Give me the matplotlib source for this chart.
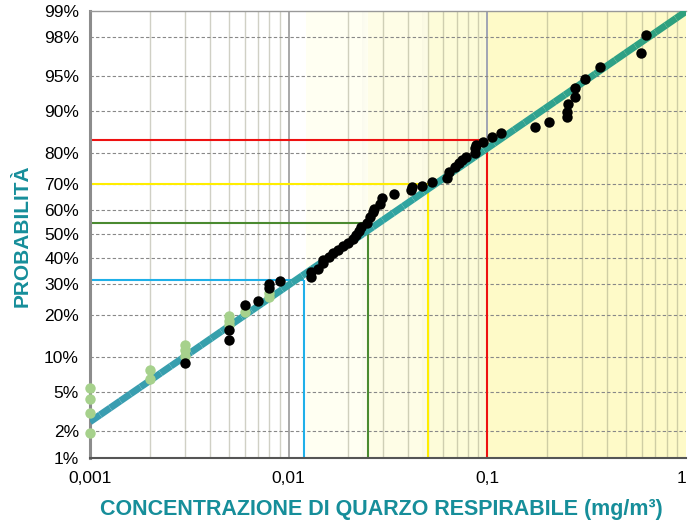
import matplotlib
matplotlib.use("Agg")
import matplotlib.pyplot as plt
import numpy as np
from statistics import NormalDist
from matplotlib.collections import LineCollection
import matplotlib.colors as mcolors

nd = NormalDist()
def z(p):
    return np.array([nd.inv_cdf(v / 100.0) for v in np.atleast_1d(p)])

# ---------------- data ----------------
black_x = [0.003, 0.005, 0.005, 0.006, 0.007, 0.008, 0.008, 0.009,
           0.0129, 0.0129, 0.0141, 0.0149, 0.0149, 0.0159, 0.0167, 0.0177,
           0.0188, 0.0199, 0.0211, 0.0219, 0.0225, 0.0230, 0.0248, 0.0256,
           0.0266, 0.027, 0.0287, 0.0296, 0.034, 0.0414, 0.042, 0.047,
           0.0524, 0.0625, 0.0645, 0.0685, 0.072, 0.0749, 0.078, 0.0862,
           0.0866, 0.088, 0.0955, 0.106, 0.117, 0.174, 0.204, 0.251, 0.251,
           0.255, 0.275, 0.275, 0.31, 0.368, 0.594, 0.63]
black_p = [8.9, 15.9, 13.5, 23.1, 24.3, 30.1, 28.6, 31.1,
           32.9, 34.7, 36.0, 38.0, 39.3, 40.7, 42.3, 43.6,
           45.0, 46.4, 47.8, 49.6, 51.4, 53.0, 54.7, 57.2,
           59.2, 60.5, 62.5, 64.5, 66.0, 67.7, 68.7, 69.3,
           70.5, 71.9, 74.0, 75.8, 76.9, 78.0, 79.0, 80.0,
           81.4, 82.3, 83.2, 84.5, 85.4, 86.7, 87.8, 88.9, 89.9,
           91.2, 92.4, 93.6, 94.7, 95.9, 97.0, 98.1]

green_x = [0.001, 0.001, 0.001, 0.001, 0.002, 0.002, 0.003, 0.003, 0.003,
           0.005, 0.005, 0.005, 0.006, 0.008, 0.008]
green_p = [5.4, 4.3, 3.1, 1.9, 7.8, 6.6, 12.5, 11.3, 10.2,
           19.7, 18.3, 17.2, 20.9, 27.1, 25.5]

# fitted log-normal line: endpoints (concentration, probability %)
fit_x = [0.001, 1.0]
fit_p = [2.53, 98.98]

# reference limits (concentration, probability %)
ref_x = [0.012, 0.025, 0.05, 0.1]
ref_p = [31.8, 54.4, 70.0, 83.6]
ref_colors = ["#1fb0e8", "#4a8a30", "#ffee00", "#ee1111"]

ytick_p = [1, 2, 5, 10, 20, 30, 40, 50, 60, 70, 80, 90, 95, 98, 99]
grid_p = [2, 5, 10, 20, 30, 40, 50, 60, 70, 80, 90, 95, 98]
xtick_vals = [0.001, 0.01, 0.1, 1]
xtick_labels = ["0,001", "0,01", "0,1", "1"]

# background bands (start, end, colour)
band_edges = [0.0122, 0.025, 0.05, 0.1, 1.0]
band_colors = ["#fffff2", "#fefde6", "#fdfcd9", "#fefac8"]

teal = "#168e9a"
font = ["Liberation Sans", "DejaVu Sans"]
font_narrow = ["Liberation Sans Narrow", "Liberation Sans", "DejaVu Sans"]

# ---------------- figure ----------------
fig = plt.figure(figsize=(6.89, 5.27), dpi=100)
ax = fig.add_axes([90 / 689, 1 - 457.5 / 527, 596 / 689, 446.8 / 527])
ax.set_xscale("log")
ax.set_xlim(0.001, 1)
ax.set_ylim(z(1)[0], z(99)[0])

# backgrounds
for i, c in enumerate(band_colors):
    ax.axvspan(band_edges[i], band_edges[i + 1], color=c, zorder=0, lw=0)
# soft shadows before each boundary
for e in band_edges[1:4]:
    for k in range(6):
        ax.axvspan(e * 10 ** (-(k + 1) * 0.005), e * 10 ** (-k * 0.005),
                   color="#888888", alpha=0.035 * (k + 1) / 6, lw=0, zorder=0.5)

# grid
for dec in [0.001, 0.01, 0.1]:
    for m in range(2, 10):
        ax.axvline(dec * m, color="#8a8a70", alpha=0.4, lw=1.0, zorder=1)
ax.axvline(0.01, color="#999999", lw=1.2, zorder=1)
ax.axvline(0.1, color="#a0a4b4", lw=1.4, zorder=1)
for p in grid_p:
    ax.axhline(z(p)[0], color="#888888", lw=0.8, ls=(0, (3, 2)), zorder=1)

# reference lines
for xr, pr, c in zip(ref_x, ref_p, ref_colors):
    zr = z(pr)[0]
    ax.plot([0.001, xr], [zr, zr], color=c, lw=1.5, zorder=2, solid_capstyle="butt")
    ax.plot([xr, xr], [z(1)[0], zr], color=c, lw=1.5, zorder=2, solid_capstyle="butt")

# fitted line with colour gradient
lx = np.log10(fit_x)
lz = z(fit_p)
tt = np.linspace(0, 1, 60)
xs = 10 ** (lx[0] + (lx[1] - lx[0]) * tt)
zs = lz[0] + (lz[1] - lz[0]) * tt
cmap = mcolors.LinearSegmentedColormap.from_list("g", ["#3a9db2", "#30a4a2", "#2fa07c"])
segs = [[(xs[i], zs[i]), (xs[i + 1], zs[i + 1])] for i in range(len(xs) - 1)]
lc = LineCollection(segs, colors=cmap(tt[:-1]), linewidths=5.0, zorder=3, capstyle="butt")
ax.add_collection(lc)

# points
ax.plot(green_x, z(green_p), "o", color="#a6d18c", ms=7.5, mec="none", zorder=4, clip_on=False)
ax.plot(black_x, z(black_p), "o", color="black", ms=7.5, mec="none", zorder=5, clip_on=False)

# axes styling
ax.set_yticks(z(ytick_p))
ax.set_yticklabels([f"{p}%" for p in ytick_p], fontfamily=font, fontsize=12.5)
ax.set_xticks(xtick_vals)
ax.set_xticklabels(xtick_labels, fontfamily=font, fontsize=12.5)
ax.get_xticklabels()[-1].set_horizontalalignment("right")
ax.xaxis.set_minor_locator(matplotlib.ticker.NullLocator())
ax.tick_params(axis="both", length=0)
ax.tick_params(axis="y", pad=8)
ax.tick_params(axis="x", pad=10)

ax.spines["right"].set_visible(False)
ax.spines["top"].set_color("#999999")
ax.spines["top"].set_linewidth(1.0)
ax.spines["left"].set_color("#8c8c8c")
ax.spines["left"].set_linewidth(2.2)
ax.spines["bottom"].set_color("#555555")
ax.spines["bottom"].set_linewidth(1.5)

fig.text(0.553, 1 - 510 / 527, "CONCENTRAZIONE DI QUARZO RESPIRABILE (mg/m³)",
         ha="center", va="center", color=teal, fontsize=15.5, fontweight="bold",
         fontfamily=font_narrow)
fig.text(22 / 689, 1 - 236 / 527, "PROBABILITÀ", ha="center", va="center",
         rotation=90, color=teal, fontsize=15, fontweight="bold", fontfamily=font_narrow)

fig.savefig("out.png", dpi=100)
